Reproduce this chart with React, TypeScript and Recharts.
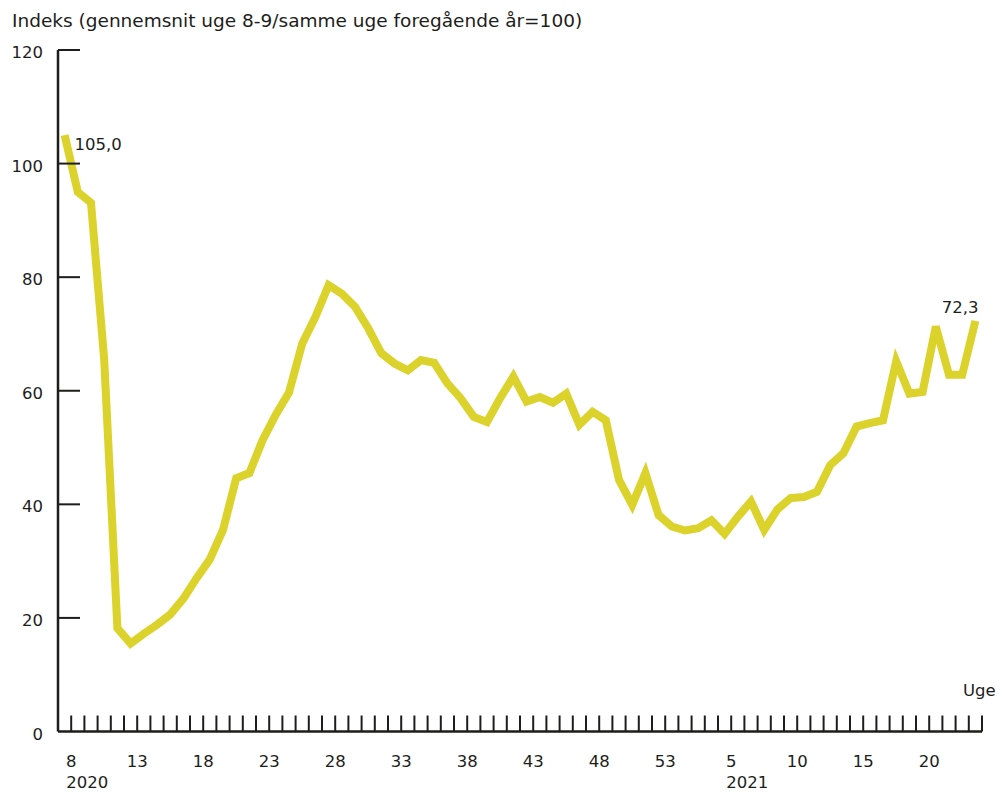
import React from 'react';
import { LineChart, Line, XAxis, YAxis } from 'recharts';

const title = 'Indeks (gennemsnit uge 8-9/samme uge foregående år=100)';
const xTitle = 'Uge';

const weeks2020 = [8, 9, 10, 11, 12, 13, 14, 15, 16, 17, 18, 19, 20, 21, 22, 23, 24, 25, 26, 27, 28, 29, 30, 31, 32, 33, 34, 35, 36, 37, 38, 39, 40, 41, 42, 43, 44, 45, 46, 47, 48, 49, 50, 51, 52, 53];
const weeks2021 = [1, 2, 3, 4, 5, 6, 7, 8, 9, 10, 11, 12, 13, 14, 15, 16, 17, 18, 19, 20, 21, 22, 23, 24];

const values2020 = [105.0, 95.0, 93.1, 65.5, 18.2, 15.5, 17.2, 18.8, 20.6, 23.4, 27.0, 30.3, 35.5, 44.6, 45.5, 51.3, 55.8, 59.7, 68.3, 73.0, 78.6, 77.1, 74.8, 71.0, 66.6, 64.8, 63.6, 65.4, 64.9, 61.3, 58.7, 55.4, 54.5, 58.7, 62.5, 58.1, 58.9, 57.9, 59.5, 54.0, 56.3, 54.8, 44.3, 39.9, 45.5, 38.1];
const values2021 = [36.1, 35.4, 35.8, 37.2, 34.8, 37.8, 40.5, 35.5, 39.1, 41.1, 41.3, 42.2, 46.9, 49.0, 53.7, 54.3, 54.8, 65.2, 59.5, 59.8, 71.3, 62.8, 62.8, 72.3];

const labeledWeeks2020 = [8, 13, 18, 23, 28, 33, 38, 43, 48, 53];
const labeledWeeks2021 = [5, 10, 15, 20];
const yTicks = [0, 20, 40, 60, 80, 100, 120];

const INK = '#1d1d1b';
const LINE = '#dbd22b';
const FONT = '"DejaVu Sans", sans-serif';
const FS = 16.5;

const categories = [
  ...weeks2020.map((w) => ({ week: w, year: 2020 })),
  ...weeks2021.map((w) => ({ week: w, year: 2021 })),
];
const allValues = [...values2020, ...values2021];
const data = categories.map((c, i) => ({ x: i + 0.5, value: allValues[i], week: c.week, year: c.year }));
const xTicks = categories.map((_, i) => i + 1);

const XTick = (props: any) => {
  const { x, y, payload } = props;
  const c = categories[payload.value - 1];
  if (!c) return null;
  const labeled = c.year === 2020 ? labeledWeeks2020.includes(c.week) : labeledWeeks2021.includes(c.week);
  const firstOfYear = c.year === 2020 ? c.week === labeledWeeks2020[0] : c.week === labeledWeeks2021[0];
  return (
    <g>
      <line x1={x} x2={x} y1={y} y2={y - 16} stroke={INK} strokeWidth={2} />
      {labeled && (
        <text x={x} y={y + 35.5} textAnchor="middle" fontSize={FS} fill={INK} fontFamily={FONT}>
          {c.week}
        </text>
      )}
      {firstOfYear && (
        <text x={x - 5} y={y + 56} textAnchor="start" fontSize={FS} fill={INK} fontFamily={FONT}>
          {c.year}
        </text>
      )}
    </g>
  );
};

const YTick = (props: any) => {
  const { x, y, payload } = props;
  return (
    <g>
      {payload.value !== 0 && <line x1={x} x2={x + 22} y1={y} y2={y} stroke={INK} strokeWidth={2} />}
      <text x={x - 15} y={y + 8} textAnchor="end" fontSize={FS} fill={INK} fontFamily={FONT}>
        {payload.value}
      </text>
    </g>
  );
};

const fmt = (v: number) => v.toFixed(1).replace('.', ',');

const EndLabel = (props: any) => {
  const { x, y, index, value } = props;
  if (index === 0) {
    return (
      <text x={x + 10} y={y + 15} textAnchor="start" fontSize={FS} fill={INK} fontFamily={FONT}>
        {fmt(value)}
      </text>
    );
  }
  if (index === data.length - 1) {
    return (
      <text x={x + 3} y={y - 8} textAnchor="end" fontSize={FS} fill={INK} fontFamily={FONT}>
        {fmt(value)}
      </text>
    );
  }
  return null;
};

export default function App() {
  return (
    <div style={{ position: 'absolute', left: 0, top: 0, width: 1004, height: 792, background: '#fff' }}>
      <LineChart
        width={1004}
        height={792}
        data={data}
        margin={{ top: 50, right: 22, bottom: 59.5, left: 57 }}
      >
        <XAxis
          dataKey="x"
          type="number"
          domain={[0, 70]}
          ticks={xTicks}
          interval={0}
          height={1}
          tickSize={0}
          tickMargin={0}
          tickLine={false}
          axisLine={{ stroke: INK, strokeWidth: 2.5 }}
          tick={<XTick />}
          allowDecimals={false}
        />
        <YAxis
          type="number"
          domain={[0, 120]}
          ticks={yTicks}
          interval={0}
          width={1}
          tickSize={0}
          tickMargin={0}
          tickLine={false}
          axisLine={{ stroke: INK, strokeWidth: 2.5 }}
          tick={<YTick />}
        />
        <Line
          type="linear"
          dataKey="value"
          stroke={LINE}
          strokeWidth={8}
          dot={false}
          isAnimationActive={false}
          label={<EndLabel />}
        />
      </LineChart>
      <svg width={1004} height={792} style={{ position: 'absolute', left: 0, top: 0, pointerEvents: 'none' }}>
        <text x={12} y={26.5} fontSize={18.5} fill={INK} fontFamily={FONT}>
          {title}
        </text>
        <text x={963} y={696} fontSize={FS} fill={INK} fontFamily={FONT}>
          {xTitle}
        </text>
      </svg>
    </div>
  );
}
